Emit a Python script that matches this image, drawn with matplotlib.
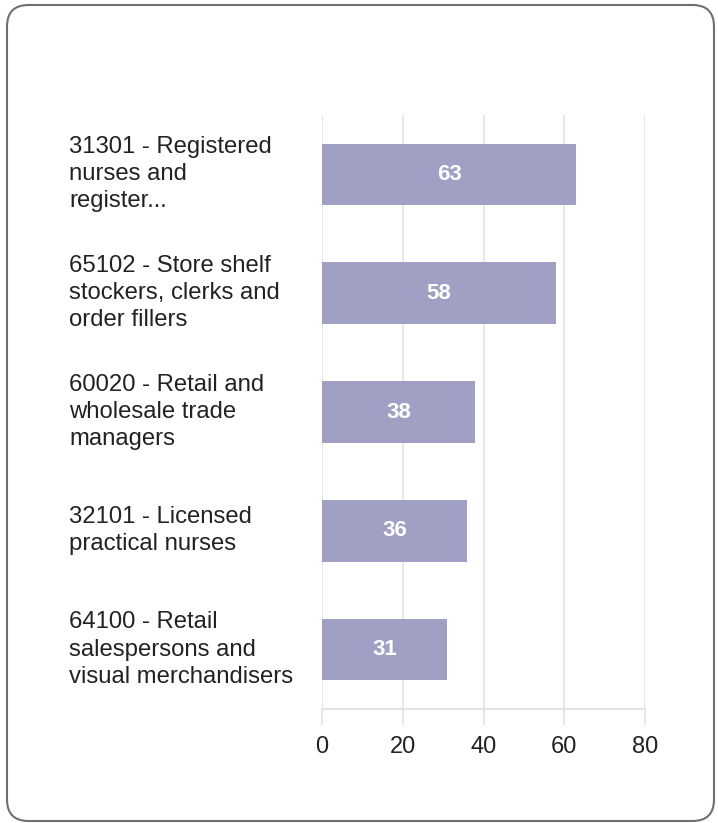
import matplotlib
matplotlib.use("Agg")
import matplotlib.pyplot as plt
from matplotlib.patches import FancyBboxPatch

categories = [
    "31301 - Registered\nnurses and\nregister...",
    "65102 - Store shelf\nstockers, clerks and\norder fillers",
    "60020 - Retail and\nwholesale trade\nmanagers",
    "32101 - Licensed\npractical nurses",
    "64100 - Retail\nsalespersons and\nvisual merchandisers",
]
values = [63, 58, 38, 36, 31]
xticks = [0, 20, 40, 60, 80]

W, H = 718, 823
fig = plt.figure(figsize=(W / 100, H / 100), dpi=100)
plt.rcParams['font.family'] = ['Liberation Sans', 'DejaVu Sans']

ax = fig.add_axes([322 / W, 1 - 709 / H, (645 - 322) / W, (709 - 115) / H])
ypos = list(range(len(categories)))
bars = ax.barh(ypos, values, height=0.52, color="#a09fc4", zorder=2)
for y, v in zip(ypos, values):
    ax.text(v / 2, y, str(v), ha="center", va="center", color="white",
            fontsize=16, fontweight="bold", zorder=3)

ax.set_xlim(0, 80)
ax.set_ylim(len(categories) - 0.5, -0.5)
ax.set_xticks(xticks)
ax.set_xticklabels([str(t) for t in xticks], fontsize=17, color="#222222")
ax.set_yticks(ypos)
ax.set_yticklabels(categories, fontsize=17.2, color="#222222", ha="left",
                   va="center", linespacing=1.3)
ax.tick_params(axis="y", length=0, pad=253 * 0.72)
ax.tick_params(axis="x", length=11.5, color="#e3e3e3", width=1.2, pad=8)
ax.grid(axis="x", color="#e3e3e3", linewidth=1.2, zorder=0)
for s in ["top", "right", "left"]:
    ax.spines[s].set_visible(False)
ax.spines["bottom"].set_color("#e3e3e3")
ax.spines["bottom"].set_linewidth(1.5)

border = FancyBboxPatch((7 / W, 2 / H), (714 - 7) / W, (818 - 2) / H,
                        boxstyle="round,pad=0,rounding_size=0.03",
                        transform=fig.transFigure, fill=False,
                        edgecolor="#707070", linewidth=1.5,
                        mutation_aspect=W / H)
fig.patches.append(border)

fig.savefig("out.png", dpi=100)
